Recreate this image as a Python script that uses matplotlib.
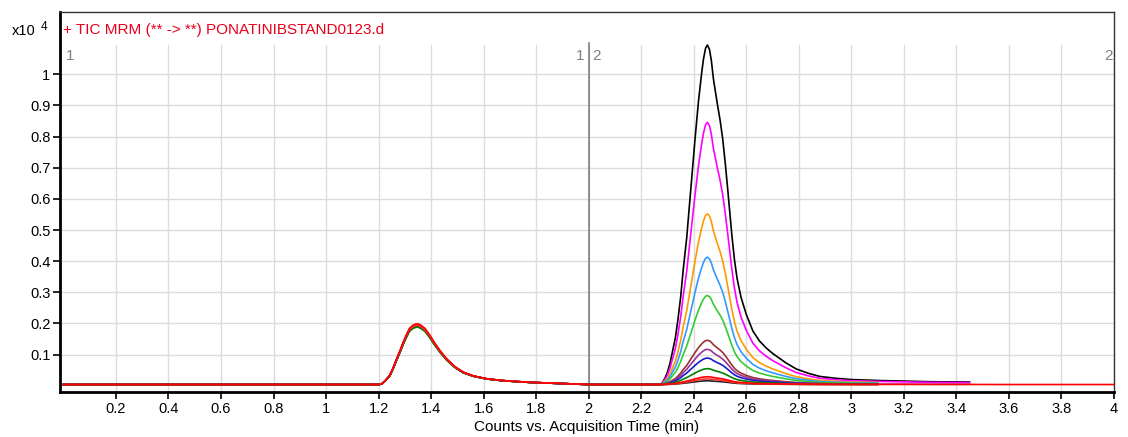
import numpy as np
import matplotlib.pyplot as plt

plt.rcParams['font.family'] = ['Liberation Sans', 'DejaVu Sans']

# first peak (retention ~1.35 min)
t_peak1 = [1.20, 1.212, 1.225, 1.243, 1.256, 1.269, 1.282, 1.294, 1.306, 1.317,
           1.33, 1.34, 1.35, 1.362, 1.377, 1.394, 1.411, 1.435, 1.459, 1.49, 1.522,
           1.56, 1.61, 1.67, 1.74, 1.78]
p_peak1 = [0, 0.002, 0.012, 0.03, 0.055, 0.083, 0.11, 0.137, 0.16, 0.18,
           0.19, 0.194, 0.195, 0.19, 0.18, 0.16, 0.137, 0.108, 0.083, 0.058, 0.04,
           0.028, 0.019, 0.013, 0.009, 0.007]

# second peak (retention ~2.45 min), black trace
t_peak2 = [2.27, 2.28, 2.29, 2.30, 2.31, 2.32, 2.33, 2.34, 2.35, 2.36,
           2.373, 2.39, 2.405, 2.418, 2.43, 2.437, 2.445, 2.452, 2.46, 2.467,
           2.475, 2.49, 2.50, 2.51, 2.52, 2.53, 2.545, 2.555, 2.565, 2.58,
           2.60, 2.625, 2.65, 2.675, 2.70, 2.75, 2.79, 2.84, 2.88, 2.94,
           3.0, 3.1, 3.2, 3.3, 3.45]
p_peak2 = [0, 0.005, 0.02, 0.04, 0.07, 0.11, 0.15, 0.21, 0.28, 0.37,
           0.47, 0.64, 0.79, 0.91, 1.0, 1.045, 1.08, 1.09, 1.075, 1.04,
           0.98, 0.9, 0.85, 0.79, 0.71, 0.62, 0.48, 0.40, 0.34, 0.28,
           0.225, 0.172, 0.14, 0.118, 0.10, 0.07, 0.05, 0.035, 0.026, 0.02,
           0.016, 0.013, 0.011, 0.009, 0.008]

# one trace per standard
colors = ['black', '#ff00ff', '#ff9900', '#3399ff', '#33cc33', '#993333',
          '#993399', '#1a1acc', '#008000', '#222222', '#ff3333', 'red']
heights1 = [0.188, 0.19, 0.189, 0.188, 0.184, 0.19, 0.189, 0.187, 0.185, 0.19, 0.19, 0.195]
heights2 = [1.09, 0.842, 0.548, 0.409, 0.286, 0.142, 0.113, 0.085, 0.051, 0.012, 0.018, 0.025]
end_times = [3.45, 3.45, 3.16, 3.16, 3.16, 3.16, 3.45, 3.16, 3.16, 3.16, 3.16, 4.0]
baseline = 0.004

xticks = [0.2, 0.4, 0.6, 0.8, 1, 1.2, 1.4, 1.6, 1.8, 2, 2.2, 2.4, 2.6, 2.8,
          3, 3.2, 3.4, 3.6, 3.8, 4]
yticks = [0.1, 0.2, 0.3, 0.4, 0.5, 0.6, 0.7, 0.8, 0.9, 1]

t_all = np.array([0.0] + t_peak1 + [2.0] + t_peak2 + [3.6, 4.0])
p1_all = np.array([0] + p_peak1 + [0] + [0] * len(t_peak2) + [0, 0]) / max(p_peak1)
p2_all = np.array([0] + [0] * len(t_peak1) + [0] + p_peak2 + [0, 0]) / max(p_peak2)

fig = plt.figure(figsize=(11.28, 4.37), dpi=100)
ax = fig.add_axes([60 / 1128, 45 / 437, 1054 / 1128, 380 / 437])

ax.set_xlim(-0.013, 4.0)
ax.set_ylim(-0.02, 1.2)

grid_top = 0.913
for x in xticks:
    ax.axvline(x, ymin=0, ymax=grid_top, color='#dcdcdc', lw=1, zorder=0)
for y in yticks:
    ax.axhline(y, color='#dcdcdc', lw=1, zorder=0)
ax.axvline(2, ymin=0, ymax=0.918, color='#808080', lw=1.2, zorder=1)

for c, h1, h2, te in zip(colors, heights1, heights2, end_times):
    y = baseline + h1 * p1_all + h2 * p2_all
    m = t_all <= te + 1e-9
    ax.plot(t_all[m], y[m], color=c, lw=1.2, zorder=2)

ax.set_xticks(xticks)
ax.set_xticklabels(['%g' % v for v in xticks])
ax.set_yticks(yticks)
ax.set_yticklabels(['%g' % v for v in yticks])
ax.tick_params(direction='out', length=5, width=1.2, labelsize=10.5, pad=2)

for side in ['left', 'bottom']:
    ax.spines[side].set_linewidth(2)
for side in ['top', 'right']:
    ax.spines[side].set_linewidth(1)
    ax.spines[side].set_color('#333333')

ax.set_xlabel('Counts vs. Acquisition Time (min)', fontsize=11, labelpad=3)

# segment labels
seg_y = 1.058
ax.text(0.008, seg_y, '1', color='#808080', fontsize=11, ha='left', va='center')
ax.text(1.985, seg_y, '1', color='#808080', fontsize=11, ha='right', va='center')
ax.text(2.015, seg_y, '2', color='#808080', fontsize=11, ha='left', va='center')
ax.text(3.995, seg_y, '2', color='#808080', fontsize=11, ha='right', va='center')

ax.text(0.003, 0.952, '+ TIC MRM (** -> **) PONATINIBSTAND0123.d', color='#e8001c',
        fontsize=11, ha='left', va='center', transform=ax.transAxes)
fig.text(12 / 1128, 1 - 31 / 437, 'x10', fontsize=10.5, ha='left', va='center')
fig.text(41 / 1128, 1 - 27 / 437, '4', fontsize=8.5, ha='left', va='center')

fig.savefig('out.png', dpi=100)
